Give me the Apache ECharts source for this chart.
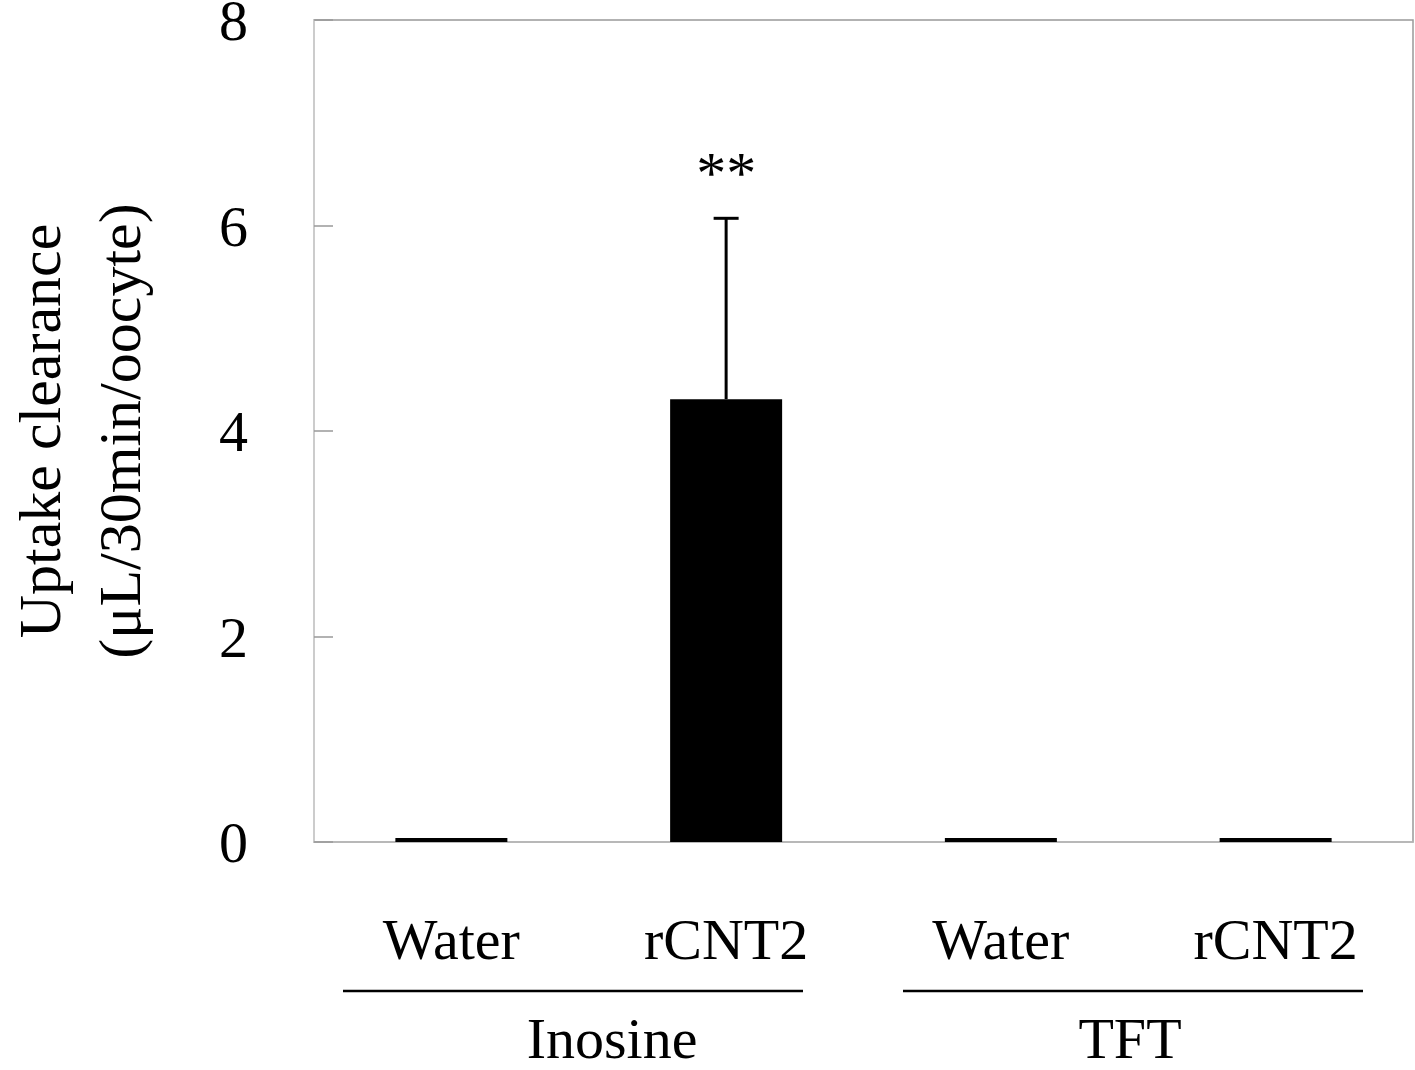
<!DOCTYPE html>
<html>
<head>
<meta charset="utf-8">
<script src="https://cdn.jsdelivr.net/npm/echarts@6/dist/echarts.min.js"></script>
<style>
  html, body { margin: 0; padding: 0; background: #fff; }
  #chart { width: 1415px; height: 1070px; }
</style>
</head>
<body>
<div id="chart"></div>
<script>
var categories = ['Water', 'rCNT2', 'Water', 'rCNT2'];
var means = [0.04, 4.31, 0.04, 0.04];
var errors = [0, 1.76, 0, 0];
var marks = ['', '**', '', ''];
var groups = ['Inosine', 'TFT'];
var yTicks = [0, 2, 4, 6, 8];

var serif = "'Liberation Serif', 'Times New Roman', serif";
var chart = echarts.init(document.getElementById('chart'));

var option = {
  animation: false,
  backgroundColor: '#fff',
  grid: {
    left: 314, top: 20, right: 2, bottom: 228,
    containLabel: false, outerBoundsMode: 'none',
    show: true, borderColor: '#999', borderWidth: 1.5
  },
  xAxis: {
    type: 'category',
    data: categories,
    axisLine: { lineStyle: { color: '#bbb', width: 1.5 } },
    axisTick: { inside: true, length: 22, lineStyle: { color: '#999', width: 1.5 } },
    axisLabel: { color: '#000', fontFamily: serif, fontSize: 58, margin: 73 }
  },
  yAxis: {
    type: 'value',
    min: yTicks[0],
    max: yTicks[yTicks.length - 1],
    interval: 2,
    name: 'Uptake clearance\n(μL/30min/oocyte)',
    nameLocation: 'middle',
    nameRotate: 90,
    nameGap: 150,
    nameTextStyle: { color: '#000', fontFamily: serif, fontSize: 60, lineHeight: 80 },
    axisLine: { show: true, lineStyle: { color: '#ccc', width: 2 } },
    axisTick: { show: true, inside: true, length: 19, lineStyle: { color: '#999', width: 1.5 } },
    splitLine: { show: false },
    axisLabel: {
      color: '#000', fontFamily: serif, fontSize: 58, margin: 66,
      formatter: '{v|{value}}',
      rich: { v: { fontFamily: serif, fontSize: 58, color: '#000', padding: [10, 0, 0, 0] } }
    }
  },
  series: [
    {
      type: 'bar',
      data: means,
      barWidth: 112,
      itemStyle: { color: '#000' }
    },
    {
      type: 'custom',
      data: means.map(function (m, i) { return [i, m, errors[i], marks[i]]; }),
      z: 5,
      renderItem: function (params, api) {
        var i = api.value(0);
        var err = errors[i];
        if (!err) return null;
        var base = api.coord([i, means[i]]);
        var top = api.coord([i, means[i] + err]);
        var half = 12.5;
        var style = { stroke: '#000', lineWidth: 3 };
        var children = [
          { type: 'line', shape: { x1: base[0], y1: base[1], x2: top[0], y2: top[1] }, style: style },
          { type: 'line', shape: { x1: top[0] - half, y1: top[1], x2: top[0] + half, y2: top[1] }, style: style }
        ];
        if (marks[i]) {
          children.push({
            type: 'text',
            style: {
              text: marks[i], x: top[0], y: top[1] - 41,
              align: 'center', verticalAlign: 'middle',
              fill: '#000', font: '60px ' + serif
            }
          });
        }
        return { type: 'group', children: children };
      }
    }
  ]
};
chart.setOption(option);

// group brackets under the category labels
var lineY = 991, textY = 1043;
var spans = [[343, 803, 612], [903, 1363, 1130]];
var graphics = [];
groups.forEach(function (g, k) {
  graphics.push({
    type: 'line',
    shape: { x1: spans[k][0], y1: lineY, x2: spans[k][1], y2: lineY },
    style: { stroke: '#000', lineWidth: 2.5 }
  });
  graphics.push({
    type: 'text',
    x: spans[k][2], y: textY,
    style: { text: g, fill: '#000', font: '58px ' + serif, align: 'center', verticalAlign: 'middle' }
  });
});
chart.setOption({ graphic: graphics });
</script>
</body>
</html>
